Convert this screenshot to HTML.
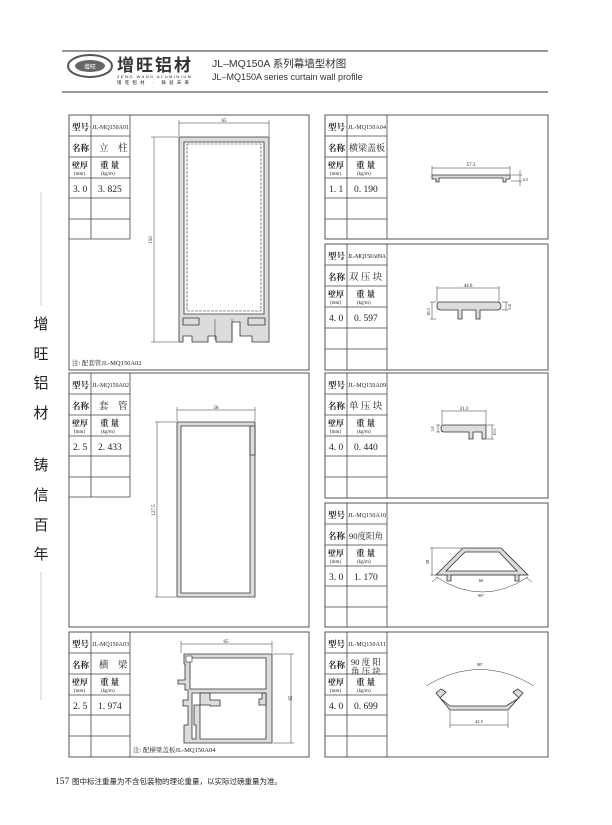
<!DOCTYPE html>
<html><head><meta charset="utf-8"><style>
html,body{margin:0;padding:0;background:#fff}
svg{display:block}
text{font-family:"Liberation Serif","Noto Serif CJK SC",serif;fill:#222}
.s{font-family:"Liberation Sans","Noto Sans CJK SC",sans-serif}
.b{stroke:#555;stroke-width:1;fill:none}
.t{stroke:#444;stroke-width:0.8;fill:none}
.p{fill:#dcdcdc;stroke:#333;stroke-width:0.8}
.d{stroke:#333;stroke-width:0.5;fill:none}
</style></head><body>
<svg width="612" height="825" viewBox="0 0 612 825" xmlns="http://www.w3.org/2000/svg">
<line x1="62" y1="51" x2="548" y2="51" stroke="#777" stroke-width="1.5"/>
<line x1="62" y1="92" x2="548" y2="92" stroke="#777" stroke-width="1.5"/>
<ellipse cx="90" cy="66" rx="22" ry="11" fill="none" stroke="#555" stroke-width="2"/>
<ellipse cx="90" cy="66" rx="15" ry="6" fill="#666"/>
<text x="90" y="69" font-size="6" text-anchor="middle" class="s" style="fill:#fff">增旺</text>
<text x="117" y="71" font-size="17" font-weight="bold" class="s" style="fill:#333" textLength="74">增旺铝材</text>
<text x="117" y="78" font-size="4" class="s" textLength="74">ZENG WANG  ALUMINIUM</text>
<text x="117" y="84" font-size="4.5" class="s" textLength="72">增旺铝材 · 铸就未来</text>
<text x="212" y="67" font-size="10.5" class="s" style="fill:#333">JL–MQ150A 系列幕墙型材图</text>
<text x="212" y="80" font-size="9" class="s" style="fill:#333">JL–MQ150A series curtain wall profile</text>
<line x1="41" y1="192" x2="41" y2="305" stroke="#ccc" stroke-width="1"/>
<line x1="41" y1="572" x2="41" y2="700" stroke="#ccc" stroke-width="1"/>
<g class="s" font-size="15" text-anchor="middle">
<text x="41" y="329" class="s">增</text><text x="41" y="359" class="s">旺</text><text x="41" y="388" class="s">铝</text><text x="41" y="418" class="s">材</text>
<text x="41" y="470" class="s">铸</text><text x="41" y="500" class="s">信</text><text x="41" y="530" class="s">百</text><text x="41" y="559" class="s">年</text>
</g>
<rect x="69" y="115" width="240" height="255" class="b"/>
<rect x="69" y="373" width="240" height="254" class="b"/>
<rect x="69" y="632" width="240" height="125" class="b"/>
<rect x="325" y="115" width="223" height="124" class="b"/>
<rect x="325" y="244" width="223" height="126" class="b"/>
<rect x="325" y="373" width="223" height="125" class="b"/>
<rect x="325" y="503" width="223" height="124" class="b"/>
<rect x="325" y="632" width="223" height="125" class="b"/>

<path class="t" d="M91 115V239M130 115V239M69 136H130M69 157H130M69 178H130M69 198H130M69 219H130M69 239H130"/>
<path class="t" d="M91 373V497M130 373V497M69 394H130M69 415H130M69 436H130M69 456H130M69 477H130M69 497H130"/>
<path class="t" d="M91 632V757M130 632V757M69 653H130M69 674H130M69 695H130M69 715H130M69 736H130"/>
<path class="t" d="M347 115V239M387 115V239M325 136H387M325 157H387M325 178H387M325 198H387M325 219H387"/>
<path class="t" d="M347 244V370M387 244V370M325 265H387M325 286H387M325 307H387M325 328H387M325 349H387"/>
<path class="t" d="M347 373V498M387 373V498M325 394H387M325 415H387M325 436H387M325 456H387M325 477H387"/>
<path class="t" d="M347 503V627M387 503V627M325 524H387M325 545H387M325 566H387M325 586H387M325 607H387"/>
<path class="t" d="M347 632V757M387 632V757M325 653H387M325 674H387M325 695H387M325 715H387M325 736H387"/>

<g font-size="8.5" font-weight="bold">
<text x="72" y="130">型号</text><text x="72" y="151">名称</text><text x="72" y="168" font-size="8">壁厚</text>
<text x="72" y="388">型号</text><text x="72" y="409">名称</text><text x="72" y="426" font-size="8">壁厚</text>
<text x="72" y="647">型号</text><text x="72" y="668">名称</text><text x="72" y="685" font-size="8">壁厚</text>
<text x="328" y="130">型号</text><text x="328" y="151">名称</text><text x="328" y="168" font-size="8">壁厚</text>
<text x="328" y="259">型号</text><text x="328" y="280">名称</text><text x="328" y="297" font-size="8">壁厚</text>
<text x="328" y="388">型号</text><text x="328" y="409">名称</text><text x="328" y="426" font-size="8">壁厚</text>
<text x="328" y="518">型号</text><text x="328" y="539">名称</text><text x="328" y="556" font-size="8">壁厚</text>
<text x="328" y="647">型号</text><text x="328" y="668">名称</text><text x="328" y="685" font-size="8">壁厚</text>
</g>
<g font-size="5">
<text x="74" y="175">(mm)</text><text x="74" y="433">(mm)</text><text x="74" y="692">(mm)</text>
<text x="330" y="175">(mm)</text><text x="330" y="304">(mm)</text><text x="330" y="433">(mm)</text><text x="330" y="563">(mm)</text><text x="330" y="692">(mm)</text>
<text x="101" y="175">(kg/m)</text><text x="101" y="433">(kg/m)</text><text x="101" y="692">(kg/m)</text>
<text x="357" y="175">(kg/m)</text><text x="357" y="304">(kg/m)</text><text x="357" y="433">(kg/m)</text><text x="357" y="563">(kg/m)</text><text x="357" y="692">(kg/m)</text>
</g>
<g font-size="8.5" font-weight="bold">
<text x="100" y="168">重 量</text><text x="100" y="426">重 量</text><text x="100" y="685">重 量</text>
<text x="356" y="168">重 量</text><text x="356" y="297">重 量</text><text x="356" y="426">重 量</text><text x="356" y="556">重 量</text><text x="356" y="685">重 量</text>
</g>
<g font-size="6">
<text x="92" y="129" textLength="37">JL-MQ150A01</text>
<text x="92" y="387" textLength="37">JL-MQ150A02</text>
<text x="92" y="646" textLength="37">JL-MQ150A03</text>
<text x="348" y="129" textLength="38">JL-MQ150A04</text>
<text x="348" y="258" textLength="38">JL-MQ150A09A</text>
<text x="348" y="387" textLength="38">JL-MQ150A09</text>
<text x="348" y="517" textLength="38">JL-MQ150A10</text>
<text x="348" y="646" textLength="38">JL-MQ150A11</text>
</g>
<g font-size="9.5">
<text x="99" y="151">立　柱</text><text x="99" y="409">套　管</text><text x="99" y="668">横　梁</text>
<text x="349" y="151" font-size="9">横梁盖板</text><text x="349" y="280">双 压 块</text><text x="349" y="409">单 压 块</text>
<text x="349" y="539" font-size="8.5">90度阳角</text>
<text x="351" y="665" font-size="8.5">90 度 阳</text><text x="351" y="674" font-size="8.5">角 压 块</text>
<text x="73" y="192">3. 0</text><text x="98" y="192">3. 825</text>
<text x="73" y="450">2. 5</text><text x="98" y="450">2. 433</text>
<text x="73" y="709">2. 5</text><text x="98" y="709">1. 974</text>
<text x="329" y="192">1. 1</text><text x="354" y="192">0. 190</text>
<text x="329" y="321">4. 0</text><text x="354" y="321">0. 597</text>
<text x="329" y="450">4. 0</text><text x="354" y="450">0. 440</text>
<text x="329" y="580">3. 0</text><text x="354" y="580">1. 170</text>
<text x="329" y="709">4. 0</text><text x="354" y="709">0. 699</text>
</g>
<text x="72" y="365" font-size="6.5">注: 配套管JL-MQ150A02</text>
<text x="133" y="752" font-size="6.5">注: 配横梁盖板JL-MQ150A04</text>

<path class="d" d="M179 136V120M269 136V120M179 123H269"/>
<text x="224" y="122" font-size="5" text-anchor="middle">65</text>
<path class="d" d="M178 137H151M178 342H151M154 137V342"/>
<text x="152" y="240" font-size="5" transform="rotate(-90 152 240)" text-anchor="middle">150</text>
<path class="p" fill-rule="evenodd" d="M179 137H269V342H252V336H240V322H232V342H216V336H208V342H192V336H183V342H179Z M184 142V314H264V142Z"/>
<rect x="187" y="144" width="74" height="167" fill="none" stroke="#333" stroke-width="0.6" stroke-dasharray="3,1"/>
<path class="p" d="M183 318H199V325H183Z M248 318H265V325H248Z"/>
<path class="d" d="M215 319V340M232 319V340"/>

<path class="d" d="M177 421V407M255 421V407M177 410H255"/>
<text x="216" y="409" font-size="5" text-anchor="middle">58</text>
<path class="d" d="M176 422H155M176 597H155M157 422V597"/>
<text x="155" y="510" font-size="5" transform="rotate(-90 155 510)" text-anchor="middle">127.5</text>
<path class="p" fill-rule="evenodd" d="M177 422H255V597H177Z M181 426V593H250V426Z"/>
<path class="p" d="M250 426H255V455H250Z"/>

<path class="d" d="M181 653V641M272 653V641M181 644H272"/>
<text x="226" y="643" font-size="5" text-anchor="middle">65</text>
<path class="d" d="M273 654H294M273 743H294M291 654V743"/>
<text x="292" y="698" font-size="5" transform="rotate(-90 292 698)" text-anchor="middle">65</text>
<path class="p" fill-rule="evenodd" d="M184 654H272V743H184V725H188V706H183V700H188V690H185V684H178V680H185V664H184Z M190 658V689H266V658Z M200 693H266V739H200V705H194V725H196V739H192V693Z"/>
<path class="p" d="M200 693H210V700H220V706H210V705H200Z M262 693H266V705H259V699H262Z"/>
<rect x="186" y="656" width="6" height="6" fill="#fff" stroke="#333" stroke-width="0.6"/>

<path class="d" d="M432 175V166M510 175V166M432 168H510"/>
<text x="471" y="166" font-size="5" text-anchor="middle">57.3</text>
<path class="p" d="M432 175H510V179H506V182H503V178H439V182H436V179H432Z"/>
<path class="d" d="M511 175H522M511 181H522M520 170V186"/>
<text x="523" y="181" font-size="4">6.5</text>

<path class="d" d="M437 302V286M499 302V286M437 288H499"/>
<text x="468" y="287" font-size="5" text-anchor="middle">44.6</text>
<path class="p" d="M439 302H497Q501 302 501 306Q501 310 497 310H480V319H476V310H462V319H458V310H441Q437 310 437 306Q437 302 439 302Z"/>
<path class="d" d="M436 302H430M436 319H430M432 302V319M502 302H508M502 310H508M506 302V310"/>
<text x="430" y="312" font-size="4.5" transform="rotate(-90 430 312)" text-anchor="middle">10.5</text>
<text x="511" y="307" font-size="4.5" transform="rotate(-90 511 307)" text-anchor="middle">5.8</text>

<path class="d" d="M442 425V410M486 425V410M442 411H486"/>
<text x="464" y="410" font-size="5" text-anchor="middle">31.3</text>
<path class="p" d="M444 425H486V439H482V432H473V439H469V432H454V432H444Q441 432 441 428Q441 425 444 425Z"/>
<path class="d" d="M440 425H436M440 432H436M438 425V432M487 425H494M487 439H494M492 425V439"/>
<text x="434" y="429" font-size="4" transform="rotate(-90 434 429)" text-anchor="middle">5.8</text>
<text x="496" y="432" font-size="4" transform="rotate(-90 496 432)" text-anchor="middle">10.5</text>

<path class="p" fill-rule="evenodd" d="M463 548H501L528 575H519V581H515V575H451V581H447V575H436Z M465 552L446 571H517L499 552Z"/>
<path class="d" d="M462 548H430M436 575H430M432 548V575M436 577Q483 607 528 577M438 577L432 582M526 577L532 582"/>
<text x="429" y="562" font-size="4.5" transform="rotate(-90 429 562)" text-anchor="middle">20</text>
<path class="d" d="M437 575H527"/>
<text x="481" y="582" font-size="4.5" text-anchor="middle">66</text>
<text x="481" y="597" font-size="4.5" text-anchor="middle">90°</text>

<path class="d" d="M426 686Q480 653 534 686"/>
<text x="480" y="666" font-size="4.5" text-anchor="middle">90°</text>
<path class="p" d="M436 693L441 689L446 692L440 698L450 706H506L519 698L513 692L518 689L523 693L508 710H450Z"/>
<path class="d" d="M450 711V728M508 711V728M450 725H508"/>
<text x="479" y="723" font-size="4.5" text-anchor="middle">42.5</text>

<text x="55" y="784" font-size="9.5">157</text>
<text x="72" y="784" font-size="7.5" class="s">图中标注重量为不含包装物的理论重量，以实际过磅重量为准。</text>
</svg>
</body></html>
